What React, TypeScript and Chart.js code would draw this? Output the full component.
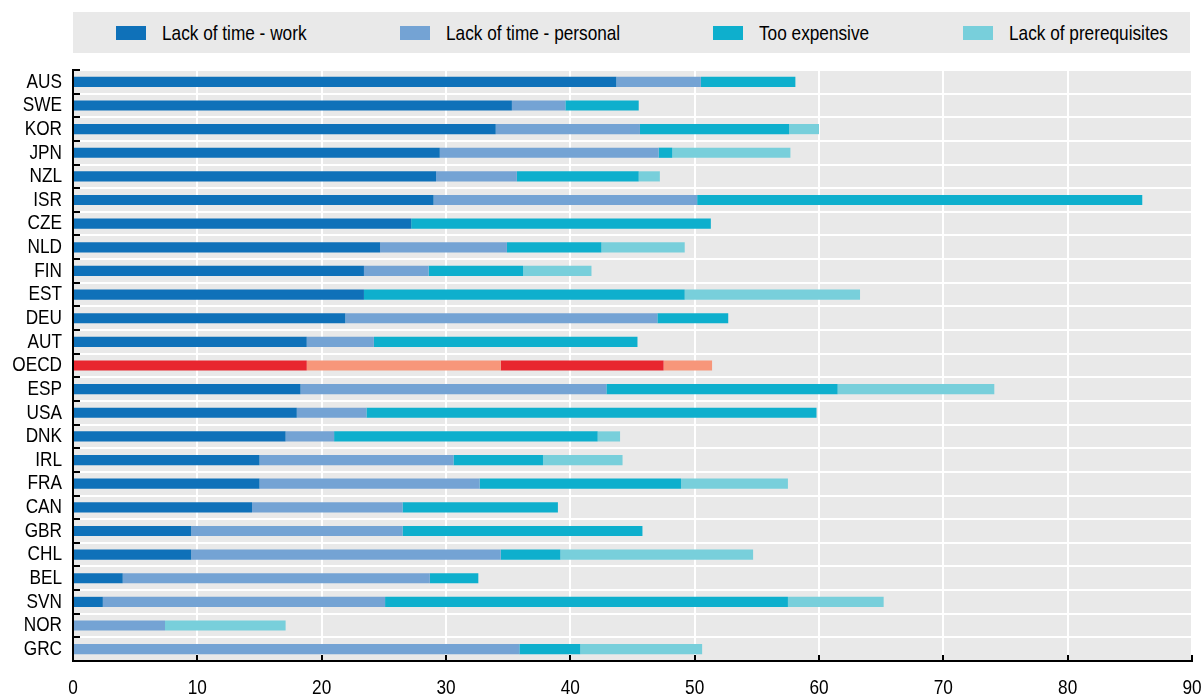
import React, { useEffect, useRef } from "react";
import { Chart, registerables } from "chart.js";

Chart.register(...registerables);

const countries = ["AUS","SWE","KOR","JPN","NZL","ISR","CZE","NLD","FIN","EST","DEU","AUT","OECD","ESP","USA","DNK","IRL","FRA","CAN","GBR","CHL","BEL","SVN","NOR","GRC"];
const seriesNames = ["Lack of time - work","Lack of time - personal","Too expensive","Lack of prerequisites"];
const lackWork = [43.7,35.3,34.0,29.5,29.2,29.0,27.2,24.7,23.4,23.4,21.9,18.8,18.8,18.3,18.0,17.1,15.0,15.0,14.4,9.5,9.5,4.0,2.4,0,0];
const lackPersonal = [6.8,4.3,11.6,17.6,6.5,21.2,0,10.2,5.2,0,25.1,5.4,15.6,24.6,5.6,3.9,15.6,17.7,12.1,17.0,24.9,24.7,22.7,7.4,35.9];
const tooExpensive = [7.6,5.9,12.0,1.1,9.8,35.8,24.1,7.6,7.6,25.8,5.7,21.2,13.1,18.6,36.2,21.2,7.2,16.2,12.5,19.3,4.8,3.9,32.4,0,4.9];
const lackPrereq = [0,0,2.4,9.5,1.7,0,0,6.7,5.5,14.1,0,0,3.9,12.6,0,1.8,6.4,8.6,0,0,15.5,0,7.7,9.7,9.8];
const xMin = 0;
const xMax = 90;
const xStep = 10;

const seriesColors = ["#0f71b9", "#74a3d4", "#0eafcd", "#78cfdb"];
const highlightColors = ["#e8262f", "#f7967a", "#e8262f", "#f7967a"];
const highlightCountry = "OECD";

const FONT = "'Liberation Sans Narrow', 'Arial Narrow', 'Liberation Sans', Arial, sans-serif";
const NARROW = 0.82;
const PLOT_BG = "#e9e9e9";

const plotBackground = {
  id: "plotBackground",
  beforeDraw(chart: any) {
    const { ctx, chartArea } = chart;
    ctx.save();
    ctx.fillStyle = PLOT_BG;
    ctx.fillRect(chartArea.left, chartArea.top, chartArea.right - chartArea.left, chartArea.bottom - chartArea.top);
    ctx.restore();
  },
};

const innerTicks = {
  id: "innerTicks",
  afterDraw(chart: any) {
    const { ctx, chartArea } = chart;
    const xs = chart.scales.x;
    const ys = chart.scales.y;
    ctx.save();
    ctx.strokeStyle = "#000";
    ctx.lineWidth = 2;
    ctx.beginPath();
    xs.ticks.forEach((_t: any, i: number) => {
      const px = Math.round(xs.getPixelForTick(i));
      ctx.moveTo(px, chartArea.bottom - 6);
      ctx.lineTo(px, chartArea.bottom);
    });
    for (let i = 0; i <= countries.length; i++) {
      const py = Math.round(ys.getPixelForValue(i - 0.5));
      ctx.moveTo(chartArea.left, py);
      ctx.lineTo(chartArea.left + 7, py);
    }
    ctx.stroke();
    ctx.restore();
  },
};

export default function App() {
  const canvasRef = useRef<HTMLCanvasElement | null>(null);

  useEffect(() => {
    const canvas = canvasRef.current;
    if (!canvas) return;
    const ctx2d = canvas.getContext("2d") as any;
    // condensed text rendering (Arial Narrow look) around each text anchor
    const origFill = ctx2d.fillText.bind(ctx2d);
    ctx2d.fillText = (text: string, x: number, y: number, maxWidth?: number) => {
      ctx2d.save();
      ctx2d.translate(x, y);
      ctx2d.scale(NARROW, 1);
      if (maxWidth !== undefined) origFill(text, 0, 0, maxWidth / NARROW);
      else origFill(text, 0, 0);
      ctx2d.restore();
    };
    const values = [lackWork, lackPersonal, tooExpensive, lackPrereq];
    const chart = new Chart(ctx2d, {
      type: "bar",
      data: {
        labels: countries,
        datasets: seriesNames.map((name, i) => ({
          label: name,
          data: values[i],
          backgroundColor: countries.map((c) => (c === highlightCountry ? highlightColors[i] : seriesColors[i])),
          borderWidth: 0,
          barPercentage: 0.43,
          categoryPercentage: 1,
        })),
      },
      options: {
        indexAxis: "y",
        animation: false,
        responsive: false,
        maintainAspectRatio: false,
        layout: { padding: { top: 70, right: 0, left: 0, bottom: 0 } },
        plugins: {
          legend: { display: false },
          tooltip: { enabled: false },
        },
        scales: {
          x: {
            type: "linear",
            stacked: true,
            min: xMin,
            max: xMax,
            position: "bottom",
            ticks: { stepSize: xStep, color: "#000", font: { family: FONT, size: 21 }, padding: 15 },
            grid: { color: "#ffffff", lineWidth: 2, drawTicks: false },
            border: { display: true, color: "#000", width: 2 },
            afterFit: (s: any) => { s.height = 33; s.paddingRight = 11; },
          },
          y: {
            type: "category",
            stacked: true,
            offset: true,
            ticks: { color: "#000", font: { family: FONT, size: 21 }, padding: 11, autoSkip: false },
            grid: { color: "#ffffff", lineWidth: 2, drawTicks: false, offset: true },
            border: { display: true, color: "#000", width: 2 },
            afterFit: (s: any) => { s.width = 73; },
          },
        },
      },
      plugins: [plotBackground, innerTicks],
    } as any);
    return () => {
      chart.destroy();
      delete ctx2d.fillText;
    };
  }, []);

  const legendLefts = [43, 327, 640, 890];

  return (
    <div style={{ position: "fixed", left: 0, top: 0, width: 1203, height: 694, background: "#fff" }}>
      <canvas ref={canvasRef} width={1203} height={694} style={{ position: "absolute", left: 0, top: 0, width: 1203, height: 694 }} />
      <div style={{ position: "absolute", left: 73, top: 12, width: 1117, height: 41, background: PLOT_BG }}>
        {seriesNames.map((name, i) => (
          <div key={name} style={{ position: "absolute", left: legendLefts[i], top: 0, height: 41, display: "flex", alignItems: "center", whiteSpace: "nowrap" }}>
            <span style={{ display: "inline-block", width: 30, height: 14, background: seriesColors[i], marginRight: 16 }} />
            <span style={{ fontFamily: FONT, fontSize: 21, color: "#000", lineHeight: "41px", display: "inline-block", transform: `scaleX(${NARROW})`, transformOrigin: "left center" }}>{name}</span>
          </div>
        ))}
      </div>
    </div>
  );
}
